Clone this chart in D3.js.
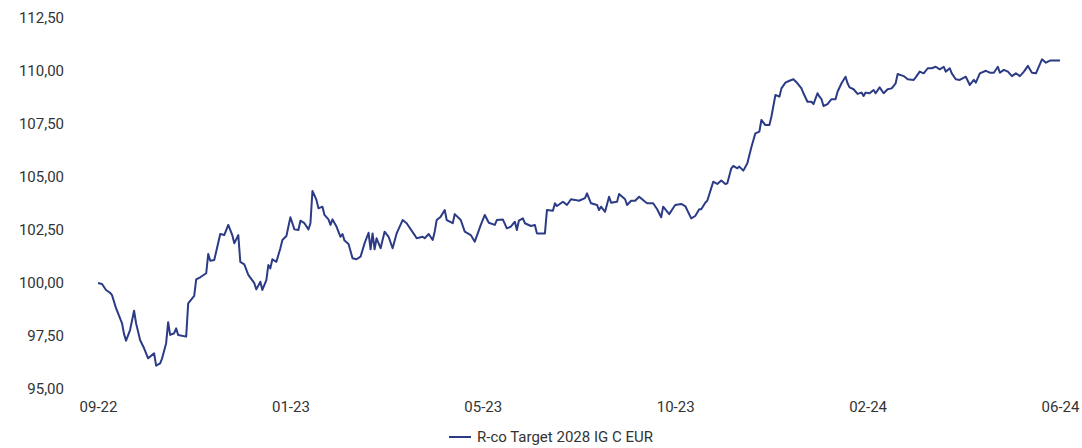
<!DOCTYPE html>
<html>
<head>
<meta charset="utf-8">
<script src="https://cdn.jsdelivr.net/npm/d3@7"></script>
<style>
  html, body { margin: 0; padding: 0; background: #fff; }
  svg text { font-family: Roboto, "Liberation Sans", sans-serif; fill: #333333; }
</style>
</head>
<body>
<svg id="svg_navChart" width="1082" height="448"></svg>
<script>
// R-co Target 2028 IG C EUR - NAV base 100

const seriesName = 'R-co Target 2028 IG C EUR';

// trading day index (0 = first obs) and NAV
const navSeries = [
  [0,100.00],[2,99.95],[4,99.67],[6,99.54],[7,99.43],[9,98.81],[12,98.10],[13,97.59],[14,97.28],[16,97.78],
  [18,98.69],[19,98.10],[21,97.31],[23,96.92],[25,96.45],[28,96.68],[29,96.10],[31,96.21],[32,96.45],[34,97.16],
  [35,98.15],[36,97.55],[38,97.63],[39,97.86],[40,97.55],[44,97.47],[45,99.04],[48,99.39],[49,100.17],[51,100.27],
  [54,100.46],[55,101.37],[56,101.05],[58,101.08],[61,102.31],[63,102.26],[65,102.74],[67,102.26],[68,101.87],[70,102.26],
  [71,101.00],[73,100.88],[75,100.38],[78,99.99],[79,99.70],[81,100.06],[82,99.67],[84,100.14],[85,100.85],[86,100.69],
  [87,101.12],[89,101.00],[91,101.64],[92,102.03],[94,102.22],[96,103.10],[98,102.53],[100,102.50],[101,102.94],[103,102.82],
  [105,102.53],[106,102.82],[107,104.34],[109,103.92],[110,103.52],[112,103.60],[113,103.21],[115,103.00],[116,102.74],[117,103.00],
  [119,102.66],[121,102.18],[122,102.31],[123,102.00],[125,101.84],[127,101.17],[129,101.12],[131,101.24],[133,101.87],[135,102.37],
  [136,101.59],[137,102.34],[138,101.59],[139,102.11],[141,101.64],[143,102.42],[145,102.18],[147,101.64],[149,102.34],[152,102.97],
  [154,102.82],[158,102.26],[159,102.11],[162,102.18],[163,102.11],[165,102.31],[167,102.03],[168,102.42],[169,102.97],[171,103.13],
  [173,103.44],[174,102.97],[177,102.82],[178,103.25],[181,102.97],[183,102.42],[186,102.26],[188,101.95],[191,102.74],[193,103.21],
  [195,102.84],[198,102.74],[199,102.97],[202,103.00],[204,102.58],[206,102.66],[208,102.89],[209,102.50],[210,102.94],[212,103.05],
  [213,102.82],[216,102.69],[218,102.74],[219,102.34],[223,102.34],[224,103.44],[227,103.41],[228,103.76],[229,103.63],[232,103.83],
  [234,103.68],[236,103.95],[238,103.92],[240,103.88],[243,104.00],[244,104.23],[246,103.76],[249,103.68],[250,103.44],[251,103.60],
  [253,103.36],[255,104.07],[256,103.79],[259,103.83],[260,104.20],[263,103.95],[264,103.68],[266,103.88],[268,103.88],[270,104.07],
  [273,103.83],[274,103.76],[277,103.76],[279,103.48],[281,103.10],[282,103.60],[285,103.25],[288,103.68],[291,103.73],[293,103.63],
  [296,103.05],[298,103.16],[300,103.48],[301,103.48],[303,103.79],[304,103.88],[307,104.78],[309,104.67],[311,104.83],[313,104.67],
  [314,104.70],[316,105.41],[317,105.52],[319,105.41],[320,105.49],[322,105.30],[324,105.65],[326,106.40],[328,107.06],[330,107.14],
  [331,107.69],[333,107.45],[335,107.45],[336,107.84],[338,108.87],[340,108.79],[341,109.18],[343,109.45],[345,109.54],[347,109.61],
  [349,109.42],[351,109.18],[352,108.95],[354,108.55],[356,108.55],[357,108.44],[359,108.95],[360,108.79],[361,108.67],[362,108.35],
  [364,108.44],[366,108.67],[368,108.67],[369,109.02],[371,109.42],[373,109.73],[374,109.42],[375,109.23],[377,109.14],[379,108.92],
  [381,108.98],[382,108.82],[383,108.98],[385,108.95],[387,109.10],[388,108.95],[390,109.23],[392,108.95],[394,109.14],[396,109.18],
  [398,109.42],[399,109.86],[402,109.76],[404,109.61],[407,109.58],[408,109.70],[410,109.97],[412,109.89],[414,110.13],[416,110.13],
  [418,110.20],[420,110.08],[422,110.20],[423,109.97],[425,110.13],[426,109.89],[428,109.61],[430,109.58],[433,109.73],[435,109.34],
  [437,109.58],[438,109.45],[440,109.89],[443,110.01],[445,109.92],[447,109.92],[449,110.20],[450,109.92],[452,110.05],[454,109.97],
  [456,109.76],[458,109.89],[460,109.76],[462,109.97],[464,110.24],[466,109.92],[468,109.89],[471,110.55],[473,110.39],[475,110.49],
  [477,110.49],[480,110.49]
];

// category axis labels (every 96 obs)
const xTickIdx = [0, 96, 192, 288, 384, 480];
const xTickLabels = ['09-22', '01-23', '05-23', '10-23', '02-24', '06-24'];

const yTicks = [95, 97.5, 100, 102.5, 105, 107.5, 110, 112.5];

const lineColor = '#2c3b85';

let svg = d3.select('#svg_navChart');

let xScale = d3.scaleLinear()
               .domain([0, 480])
               .range([98, 1060]);

let yScale = d3.scaleLinear()
               .domain([95, 112.5])
               .range([389, 18]);

// comma decimals
let fmt = d => d3.format('.2f')(d).replace('.', ',');

// y axis - labels only, no line / ticks
let yAxis = d3.axisLeft(yScale)
              .tickValues(yTicks)
              .tickFormat(fmt)
              .tickSize(0)
              .tickPadding(0);

let gy = svg.append('g')
   .attr('transform', `translate(${64}, 0)`)
   .call(yAxis);
gy.select('.domain').remove();
gy.selectAll('text')
  .attr('font-size', 15)
  .attr('font-family', null)
  .attr('fill', null);

// x axis - labels only
let xAxis = d3.axisBottom(xScale)
              .tickValues(xTickIdx)
              .tickFormat((d, i) => xTickLabels[i])
              .tickSize(0)
              .tickPadding(0);

let gx = svg.append('g')
   .attr('transform', `translate(0, ${401})`)
   .call(xAxis);
gx.select('.domain').remove();
gx.selectAll('text')
  .attr('font-size', 15)
  .attr('font-family', null)
  .attr('fill', null);

// the line
let line = d3.line()
             .x(d => xScale(d[0]))
             .y(d => yScale(d[1]));

svg.append('path')
   .datum(navSeries)
   .attr('d', line)
   .attr('fill', 'none')
   .attr('stroke', lineColor)
   .attr('stroke-width', 2)
   .attr('stroke-linejoin', 'round');

// legend
let legend = svg.append('g').attr('transform', `translate(449, 437)`);
legend.append('line')
      .attr('x1', 0).attr('x2', 22)
      .attr('y1', 0).attr('y2', 0)
      .attr('stroke', lineColor)
      .attr('stroke-width', 2);
legend.append('text')
      .attr('x', 28)
      .attr('y', 0)
      .attr('dy', '0.35em')
      .attr('font-size', 15)
      .text(seriesName);
</script>
</body>
</html>
